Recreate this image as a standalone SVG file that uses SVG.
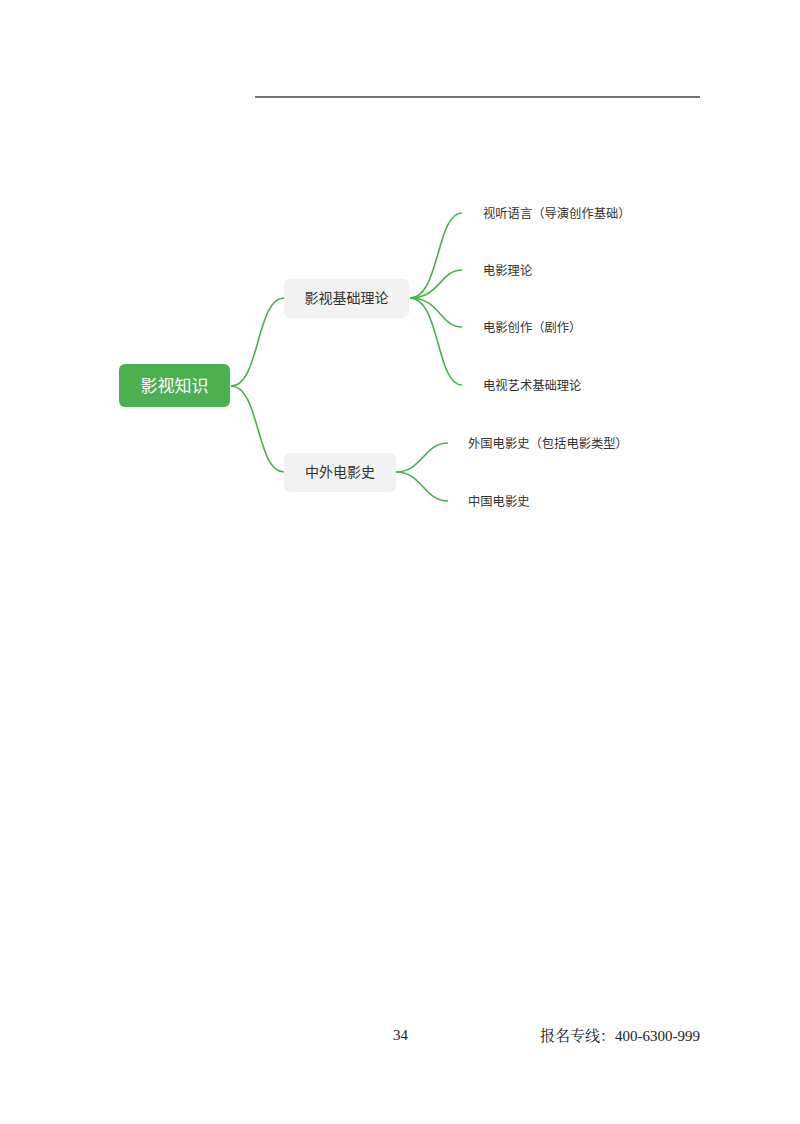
<svg xmlns="http://www.w3.org/2000/svg" width="800" height="1124" viewBox="0 0 800 1124">
<style>
.cjk{font-family:"Noto Sans CJK SC","Noto Sans",sans-serif}
.root{fill:#4caf50}
.sub{fill:#f2f2f2}
.rt{fill:#ffffff;font-size:17px}
.st{fill:#333333;font-size:14px}
.lt{fill:#333333;font-size:12.3px}
.conn path{fill:none;stroke:#4caf50;stroke-width:1.6}
.foot{font-family:"Liberation Serif","Noto Serif CJK SC","Noto Sans CJK SC",serif;font-size:15px;fill:#222}
</style>
<rect width="800" height="1124" fill="#ffffff"/>
<line x1="255" y1="97" x2="700" y2="97" stroke="#444" stroke-width="1.5"/>
<g class="conn" id="connectors">
<path d="M231,386 C260,386 256,298 284,298"/>
<path d="M231,386 C260,386 256,472 284,472"/>
<path d="M410,298 C440,298 436,213 462,213"/>
<path d="M410,298 C440,298 440,270 462,270"/>
<path d="M410,298 C440,298 440,327 462,327"/>
<path d="M410,298 C440,298 436,385 462,385"/>
<path d="M396,472 C422,472 424,443 448,443"/>
<path d="M396,472 C422,472 424,501 448,501"/>
</g>
<g id="root">
<rect class="root" x="119" y="364" width="111" height="43" rx="6"/>
<text class="cjk rt" x="174.5" y="392" text-anchor="middle">影视知识</text>
</g>
<g id="n1">
<rect class="sub" x="284" y="279" width="125" height="39" rx="6"/>
<text class="cjk st" x="346.5" y="303" text-anchor="middle">影视基础理论</text>
</g>
<g id="n2">
<rect class="sub" x="284" y="453" width="112" height="39" rx="6"/>
<text class="cjk st" x="340" y="477" text-anchor="middle">中外电影史</text>
</g>
<g id="l1"><text class="cjk lt" x="483" y="218">视听语言（导演创作基础）</text></g>
<g id="l2"><text class="cjk lt" x="483" y="275">电影理论</text></g>
<g id="l3"><text class="cjk lt" x="483" y="332">电影创作（剧作）</text></g>
<g id="l4"><text class="cjk lt" x="483" y="390">电视艺术基础理论</text></g>
<g id="l5"><text class="cjk lt" x="468" y="448">外国电影史（包括电影类型）</text></g>
<g id="l6"><text class="cjk lt" x="468" y="506">中国电影史</text></g>
<text class="foot" x="393" y="1040">34</text>
<text class="foot" x="700" y="1041" text-anchor="end">报名专线：400-6300-999</text>
</svg>
